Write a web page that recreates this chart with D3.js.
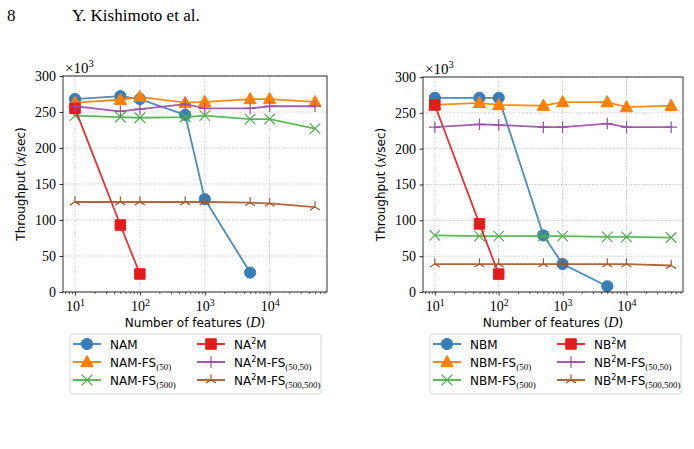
<!DOCTYPE html>
<html>
<head>
<meta charset="utf-8">
<script src="https://cdn.jsdelivr.net/npm/d3@7"></script>
<style>
  body { margin: 0; background: #fff; }
  svg { display: block; }
</style>
</head>
<body>
<div id="chart"></div>
<script>
// feature counts (x) shared by both panels
const featureCounts = [10, 50, 100, 500, 1000, 5000, 10000, 50000];
const yTicks = [0, 50, 100, 150, 200, 250, 300];
const xMajorTicks = [10, 100, 1000, 10000];

// left panel (NAM family), throughput in thousands
const nam = [268, 272, 268, 246, 129, 27];
const namFs50 = [263, 267, 271, 263, 264, 268, 268, 264];
const namFs500 = [245, 243, 242, 243, 245, 240, 240, 227];
const na2m = [255, 93, 25];
const na2mFs5050 = [258, 251, 254, 261, 255, 255, 258, 258];
const na2mFs500500 = [125, 125, 125, 125, 125, 124, 123, 118];

// right panel (NBM family)
const nbm = [271, 271, 271, 79, 39, 8];
const nbmFs50 = [261, 264, 261, 260, 265, 265, 258, 260];
const nbmFs500 = [79, 78, 78, 78, 78, 77, 77, 76];
const nb2m = [261, 95, 25];
const nb2mFs5050 = [230, 234, 233, 230, 230, 235, 230, 230];
const nb2mFs500500 = [39, 39, 39, 39, 39, 39, 39, 37];

const colors = ['#377eb8', '#ff7f00', '#4daf4a', '#e41a1c', '#984ea3', '#a65628'];
const markers = ['circle', 'triangle', 'x', 'square', 'plus', 'tri'];

const width = 694, height = 449;
const svg = d3.select('#chart').append('svg')
  .attr('width', width)
  .attr('height', height);

// page header
svg.append('text').attr('x', 7).attr('y', 21)
  .style('font-family', 'Liberation Serif').style('font-size', '17px').text('8');
svg.append('text').attr('x', 72).attr('y', 21)
  .style('font-family', 'Liberation Serif').style('font-size', '17px').text('Y. Kishimoto et al.');

function markerPath(type, size) {
  const r = size / 2;
  if (type === 'x') return `M${-r},${-r}L${r},${r}M${-r},${r}L${r},${-r}`;
  if (type === 'plus') return `M${-r},0L${r},0M0,${-r}L0,${r}`;
  if (type === 'tri') {
    const a = r * Math.sqrt(3) / 2;
    return `M0,0L0,${-r}M0,0L${-a},${r / 2}M0,0L${a},${r / 2}`;
  }
  if (type === 'circle') return d3.symbol(d3.symbolCircle, Math.PI * 5.6 * 5.6)();
  if (type === 'square') return d3.symbol(d3.symbolSquare, 10.5 * 10.5)();
  if (type === 'triangle') {
    const s = 6.5;
    return `M0,${-s}L${s * 0.95},${s * 0.72}L${-s * 0.95},${s * 0.72}Z`;
  }
}

function isStroke(type) { return type === 'x' || type === 'plus' || type === 'tri'; }

function drawMarker(g, type, color, cx, cy) {
  const p = g.append('path')
    .attr('transform', `translate(${cx},${cy})`)
    .attr('d', markerPath(type, type === 'x' ? 10.5 : 11.5));
  if (isStroke(type)) {
    p.attr('fill', 'none').attr('stroke', color).attr('stroke-width', 1.2);
  } else {
    p.attr('fill', color).attr('stroke', color).attr('stroke-width', 1);
  }
}

function addLabel(t, parts) {
  // parts: [text, kind] where kind is '', 'sup', 'sup-end' or 'sub'
  parts.forEach(([s, kind]) => {
    const ts = t.append('tspan').text(s);
    if (kind === 'sup') ts.attr('dy', -5).style('font-size', '8px');
    if (kind === 'sup-end') ts.attr('dy', 5);
    if (kind === 'sub') ts.attr('dy', 3).style('font-size', '9px').style('font-family', 'Liberation Serif');
  });
}

function drawPanel(opts) {
  const { left, right, top, bottom, series, labels } = opts;
  const g = svg.append('g');

  const lmin = Math.log10(10), lmax = Math.log10(50000);
  const pad = (lmax - lmin) * 0.05;
  const x = d3.scaleLog()
    .domain([Math.pow(10, lmin - pad), Math.pow(10, lmax + pad)])
    .range([left, right]);
  const y = d3.scaleLinear().domain([0, 300]).range([bottom, top]);

  // grid
  g.append('g').selectAll('line').data(xMajorTicks).enter().append('line')
    .attr('x1', d => x(d)).attr('x2', d => x(d))
    .attr('y1', top).attr('y2', bottom)
    .attr('stroke', '#b0b0b0').attr('stroke-width', 0.8).attr('stroke-dasharray', '1,1.6');
  g.append('g').selectAll('line').data(yTicks).enter().append('line')
    .attr('x1', left).attr('x2', right)
    .attr('y1', d => y(d)).attr('y2', d => y(d))
    .attr('stroke', '#b0b0b0').attr('stroke-width', 0.8).attr('stroke-dasharray', '1,1.6');

  // minor x ticks
  const minor = [];
  for (let e = 0; e <= 4; e++) {
    for (let m = 2; m <= 9; m++) {
      const v = m * Math.pow(10, e);
      if (v >= x.domain()[0] && v <= x.domain()[1]) minor.push(v);
    }
  }
  g.append('g')
    .attr('transform', `translate(0,${bottom})`)
    .call(d3.axisBottom(x).tickValues(minor).tickSize(2).tickFormat(''))
    .call(a => a.select('.domain').remove())
    .call(a => a.selectAll('line').attr('stroke-width', 0.6));

  // x axis
  const xa = g.append('g')
    .attr('transform', `translate(0,${bottom})`)
    .call(d3.axisBottom(x).tickValues(xMajorTicks).tickSize(3.5).tickPadding(4).tickFormat(''));
  xa.select('.domain').remove();
  xa.selectAll('line').attr('stroke-width', 0.8);
  xa.selectAll('.tick text')
    .style('font-family', 'Liberation Serif').style('font-size', '14px').attr('fill', '#000')
    .attr('dy', '0.85em')
    .each(function (d) {
      const t = d3.select(this);
      t.append('tspan').text('10');
      t.append('tspan').text(Math.round(Math.log10(d))).attr('dy', -5).style('font-size', '10px');
    });

  // y axis
  const ya = g.append('g')
    .attr('transform', `translate(${left},0)`)
    .call(d3.axisLeft(y).tickValues(yTicks).tickSize(3.5).tickPadding(3.5));
  ya.select('.domain').remove();
  ya.selectAll('line').attr('stroke-width', 0.8);
  ya.selectAll('text')
    .style('font-family', 'Liberation Serif').style('font-size', '14px').attr('fill', '#000');

  // x10^3 multiplier
  const mult = g.append('text').attr('x', left + 2).attr('y', top - 3)
    .style('font-family', 'Liberation Serif').style('font-size', '15px');
  mult.append('tspan').text('\u00d710');
  mult.append('tspan').text('3').attr('dy', -6).style('font-size', '10.5px');

  // series
  const line = d3.line().x(d => x(d[0])).y(d => y(d[1]));
  series.forEach((vals, i) => {
    const pts = vals.map((v, j) => [featureCounts[j], v]);
    const sg = g.append('g');
    sg.append('path').datum(pts)
      .attr('d', line)
      .attr('fill', 'none')
      .attr('stroke', colors[i])
      .attr('stroke-width', 1.8)
      .attr('stroke-opacity', 0.9);
    pts.forEach(p => drawMarker(sg, markers[i], colors[i], x(p[0]), y(p[1])));
  });

  // frame
  g.append('rect')
    .attr('x', left).attr('y', top)
    .attr('width', right - left).attr('height', bottom - top)
    .attr('fill', 'none').attr('stroke', '#000').attr('stroke-width', 0.8);

  // axis labels
  const yl = g.append('text')
    .attr('transform', `translate(${left - 38},${(top + bottom) / 2}) rotate(-90)`)
    .attr('text-anchor', 'middle')
    .style('font-family', 'DejaVu Sans').style('font-size', '12px');
  yl.append('tspan').text('Throughput (');
  yl.append('tspan').text('x').style('font-family', 'Liberation Serif').style('font-style', 'italic').style('font-size', '14px');
  yl.append('tspan').text('/sec)');

  const xl = g.append('text')
    .attr('x', (left + right) / 2).attr('y', bottom + 35)
    .attr('text-anchor', 'middle')
    .style('font-family', 'DejaVu Sans').style('font-size', '12px');
  xl.append('tspan').text('Number of features (');
  xl.append('tspan').text('D').style('font-family', 'Liberation Serif').style('font-style', 'italic').style('font-size', '14px');
  xl.append('tspan').text(')');

  // legend
  const lx = left + 7, ly = bottom + 42;
  g.append('rect')
    .attr('x', lx).attr('y', ly).attr('width', 251).attr('height', 60).attr('rx', 2.5)
    .attr('fill', '#fff').attr('stroke', '#cccccc').attr('stroke-width', 0.8);
  labels.forEach((parts, i) => {
    const col = Math.floor(i / 3), row = i % 3;
    const x0 = lx + 3 + col * 124;
    const yy = ly + 10 + row * 18;
    g.append('line')
      .attr('x1', x0).attr('x2', x0 + 28)
      .attr('y1', yy).attr('y2', yy)
      .attr('stroke', colors[i]).attr('stroke-width', 1.8);
    drawMarker(g, markers[i], colors[i], x0 + 14, yy);
    const t = g.append('text')
      .attr('x', x0 + 37).attr('y', yy + 4.5)
      .style('font-family', 'DejaVu Sans').style('font-size', '12px');
    addLabel(t, parts);
  });
}

drawPanel({
  left: 63, right: 327, top: 76, bottom: 292,
  series: [nam, namFs50, namFs500, na2m, na2mFs5050, na2mFs500500],
  labels: [
    [['NAM', '']],
    [['NAM-FS', ''], ['(50)', 'sub']],
    [['NAM-FS', ''], ['(500)', 'sub']],
    [['NA', ''], ['2', 'sup'], ['M', 'sup-end']],
    [['NA', ''], ['2', 'sup'], ['M-FS', 'sup-end'], ['(50,50)', 'sub']],
    [['NA', ''], ['2', 'sup'], ['M-FS', 'sup-end'], ['(500,500)', 'sub']]
  ]
});

drawPanel({
  left: 423, right: 683, top: 77, bottom: 292,
  series: [nbm, nbmFs50, nbmFs500, nb2m, nb2mFs5050, nb2mFs500500],
  labels: [
    [['NBM', '']],
    [['NBM-FS', ''], ['(50)', 'sub']],
    [['NBM-FS', ''], ['(500)', 'sub']],
    [['NB', ''], ['2', 'sup'], ['M', 'sup-end']],
    [['NB', ''], ['2', 'sup'], ['M-FS', 'sup-end'], ['(50,50)', 'sub']],
    [['NB', ''], ['2', 'sup'], ['M-FS', 'sup-end'], ['(500,500)', 'sub']]
  ]
});
</script>
</body>
</html>
